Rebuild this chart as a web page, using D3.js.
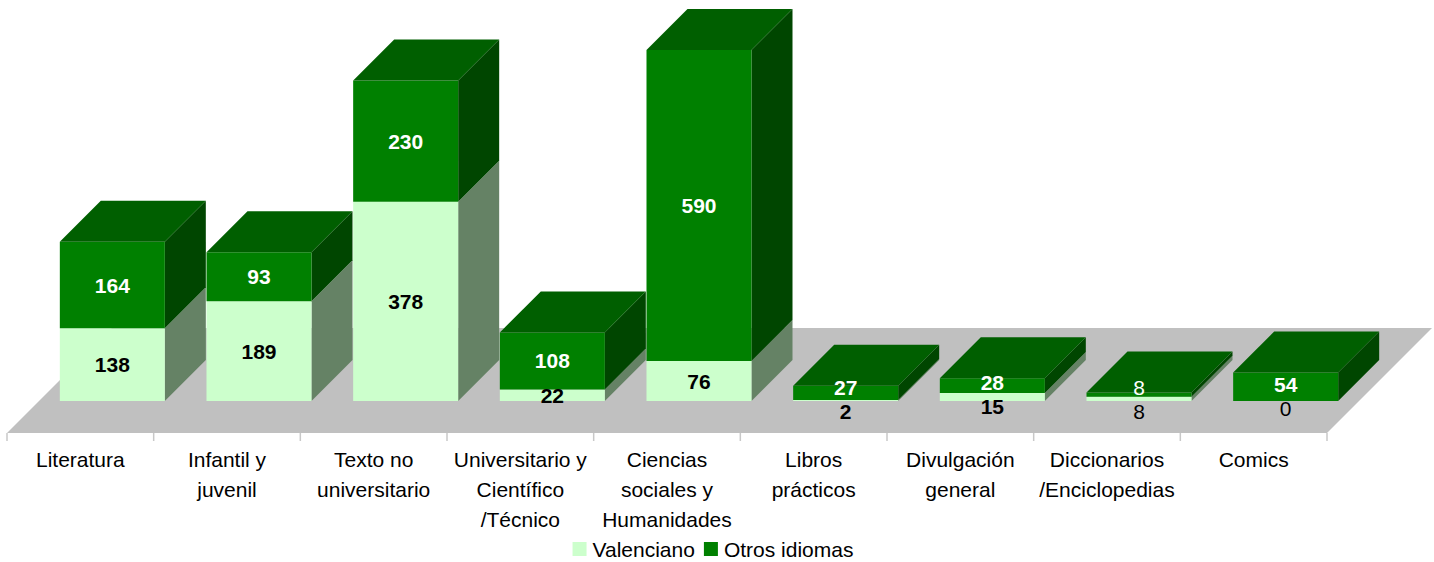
<!DOCTYPE html>
<html>
<head>
<meta charset="utf-8">
<script src="https://cdn.jsdelivr.net/npm/d3@7"></script>
<style>
  html, body { margin: 0; padding: 0; background: #fff; }
  svg { display: block; font-family: Arial, "Liberation Sans", sans-serif; }
</style>
</head>
<body>
<svg id="chart" width="1434" height="562"></svg>
<script>
// data
const categories = ["Literatura", "Infantil y juvenil", "Texto no universitario",
  "Universitario y Científico /Técnico", "Ciencias sociales y Humanidades",
  "Libros prácticos", "Divulgación general", "Diccionarios /Enciclopedias", "Comics"];
const seriesNames = ["Valenciano", "Otros idiomas"];
const valenciano = [138, 189, 378, 22, 76, 2, 15, 8, 0];
const otros = [164, 93, 230, 108, 590, 27, 28, 8, 54];
// labels that Excel drew in regular weight
const plainLabels = ["7-0", "7-1", "8-0"];

const W = 1434, H = 562;
const floorY = 433, floorDepth = 105;
const barDepth = 41, barZ = 32;

const colors = {
  val: { front: "#ccffcc", side: "#658265", top: "#a8d8a8" },
  otr: { front: "#008000", side: "#004600", top: "#005f00" }
};

const svg = d3.select("#chart");

const x = d3.scaleBand().domain(d3.range(categories.length)).range([7, 1327]);
const h = d3.scaleLinear().domain([0, 700]).range([0, 369]);
const bw = x.bandwidth() * 0.716;

// projection: x along front, z = depth, hh = height
const P = (px, z, hh) => [px + z, floorY - z - hh];
const poly = pts => "M" + pts.map(p => p.join(",")).join("L") + "Z";

// floor
svg.append("path")
  .attr("d", poly([P(7, 0, 0), P(1327, 0, 0), P(1327, floorDepth, 0), P(7, floorDepth, 0)]))
  .attr("fill", "#c0c0c0");

// ticks
svg.append("g").selectAll("line")
  .data(d3.range(categories.length + 1))
  .join("line")
  .attr("x1", i => i < categories.length ? x(i) : x.range()[1])
  .attr("x2", i => i < categories.length ? x(i) : x.range()[1])
  .attr("y1", floorY).attr("y2", floorY + 8)
  .attr("stroke", "#c8c8c8").attr("stroke-width", 1.5);

// bars
const bars = categories.map((c, i) => ({
  i, x0: x(i) + (x.bandwidth() - bw) / 2,
  segs: [
    { key: "val", v: valenciano[i], b: 0 },
    { key: "otr", v: otros[i], b: valenciano[i] }
  ]
}));

const gBars = svg.append("g");
bars.forEach(bar => {
  const g = gBars.append("g");
  const x0 = bar.x0, x1 = bar.x0 + bw;
  bar.segs.forEach((s, si) => {
    const h0 = h(s.b), h1 = h(s.b + s.v);
    const col = colors[s.key];
    // side
    g.append("path")
      .attr("d", poly([P(x1, barZ, h0), P(x1, barZ + barDepth, h0), P(x1, barZ + barDepth, h1), P(x1, barZ, h1)]))
      .attr("fill", col.side);
    // front
    g.append("path")
      .attr("d", poly([P(x0, barZ, h0), P(x1, barZ, h0), P(x1, barZ, h1), P(x0, barZ, h1)]))
      .attr("fill", col.front);
  });
  // top of stack
  const top = h(valenciano[bar.i] + otros[bar.i]);
  const tc = otros[bar.i] > 0 ? colors.otr.top : colors.val.top;
  g.append("path")
    .attr("d", poly([P(x0, barZ, top), P(x1, barZ, top), P(x1, barZ + barDepth, top), P(x0, barZ + barDepth, top)]))
    .attr("fill", tc);
});

// data labels
const labels = [];
bars.forEach(bar => {
  const cx = P(bar.x0 + bw / 2, barZ, 0)[0];
  const ys = bar.segs.map(s => floorY - barZ - h(s.b + s.v / 2));
  // push apart labels that would collide
  if (ys[0] - ys[1] < 24) {
    const mid = (ys[0] + ys[1]) / 2 + 3;
    ys[0] = mid + 12; ys[1] = mid - 12;
  }
  bar.segs.forEach((s, si) => {
    labels.push({ cx, cy: ys[si], v: s.v, si, plain: plainLabels.includes(bar.i + "-" + si) });
  });
});

svg.append("g").selectAll("text")
  .data(labels)
  .join("text")
  .attr("x", d => d.cx)
  .attr("y", d => d.cy)
  .attr("dy", "0.36em")
  .attr("text-anchor", "middle")
  .attr("font-size", 21)
  .attr("font-weight", d => d.plain ? "normal" : "bold")
  .attr("fill", d => d.si === 0 ? "#000" : "#fff")
  .text(d => d.v);

// category labels with wrap
const catG = svg.append("g");
categories.forEach((c, i) => {
  const cx = x(i) + x.bandwidth() / 2;
  const t = catG.append("text")
    .attr("x", cx)
    .attr("y", 467)
    .attr("text-anchor", "middle")
    .attr("font-size", 21)
    .attr("fill", "#000");
  const words = c.split(" ");
  let line = [];
  let ts = t.append("tspan").attr("x", cx).attr("dy", 0);
  words.forEach(w => {
    line.push(w);
    ts.text(line.join(" "));
    if (ts.node().getComputedTextLength() > 138 && line.length > 1) {
      line.pop();
      ts.text(line.join(" "));
      line = [w];
      ts = t.append("tspan").attr("x", cx).attr("dy", 30).text(w);
    }
  });
});

// legend
const legend = svg.append("g");
const legendItems = [
  { name: seriesNames[0], color: colors.val.front },
  { name: seriesNames[1], color: colors.otr.front }
];
let lx = 0;
legendItems.forEach(it => {
  const g = legend.append("g").attr("transform", `translate(${lx},0)`);
  g.append("rect").attr("x", 0).attr("y", -7).attr("width", 14).attr("height", 14).attr("fill", it.color);
  const tx = g.append("text").attr("x", 20).attr("y", 0).attr("dy", "0.36em")
    .attr("font-size", 21).attr("fill", "#000").text(it.name);
  lx += 20 + tx.node().getComputedTextLength() + 9;
});
const lw = lx - 9;
legend.attr("transform", `translate(${713 - lw / 2},549)`);
</script>
</body>
</html>
